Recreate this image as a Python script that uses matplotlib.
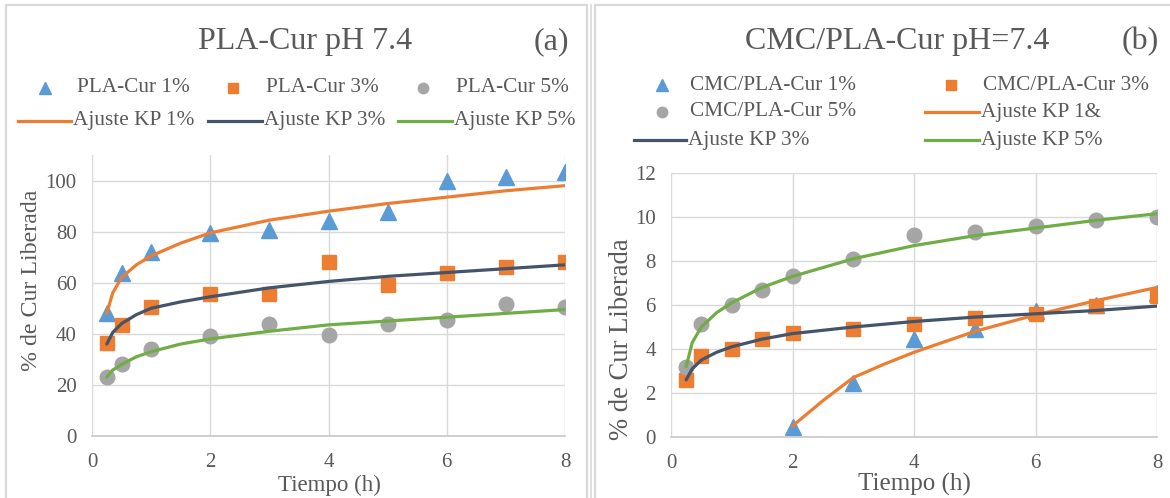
import matplotlib
matplotlib.use("Agg")
import matplotlib.pyplot as plt
from matplotlib.lines import Line2D
from matplotlib.patches import Rectangle

plt.rcParams['font.family'] = ['Liberation Serif', 'DejaVu Serif']

# ---------------- data: panel (a) PLA-Cur ----------------
t_a = [0.25, 0.5, 1, 2, 3, 4, 5, 6, 7, 8]
pla_1 = [48, 64, 72, 79.5, 80.5, 84, 87.5, 100, 101.5, 103.5]
pla_3 = [36.5, 43.5, 50.5, 55.5, 55.5, 68, 59, 64, 66, 68]
pla_5 = [23, 28, 34, 39, 44, 39.5, 44, 45.5, 51.5, 50.5]

t_fit_a = [0.25, 0.35, 0.5, 0.75, 1, 1.5, 2, 3, 4, 5, 6, 7, 8]
fit_a_1 = [48, 56, 62, 67, 70.5, 75.5, 79.5, 84.5, 88, 91, 93.5, 96, 98]
fit_a_3 = [36, 40.5, 44, 47.5, 50, 52.5, 54.5, 58, 60.5, 62.5, 64, 65.5, 67]
fit_a_5 = [23, 25.8, 28, 31, 33, 36, 38, 41, 43.5, 45, 46.5, 48, 49.5]

# ---------------- data: panel (b) CMC/PLA-Cur ----------------
t_b = [0.25, 0.5, 1, 1.5, 2, 3, 4, 5, 6, 7, 8]
cmc_5 = [3.2, 5.15, 6.0, 6.7, 7.3, 8.1, 9.2, 9.3, 9.6, 9.85, 10.0]
cmc_3 = [2.6, 3.7, 4.0, 4.45, 4.75, 4.9, 5.15, 5.4, 5.6, 5.95, 6.4]
t_b1 = [2, 3, 4, 5, 6, 7, 8]
cmc_1 = [0.45, 2.45, 4.45, 4.9, 5.75, 6.0, 6.55]

t_fit_b = [0.25, 0.35, 0.5, 0.75, 1, 1.5, 2, 3, 4, 5, 6, 7, 8]
fit_b_5 = [3.2, 4.3, 5.0, 5.65, 6.1, 6.8, 7.3, 8.1, 8.7, 9.15, 9.5, 9.85, 10.15]
fit_b_3 = [2.6, 3.1, 3.5, 3.85, 4.1, 4.45, 4.7, 5.0, 5.25, 5.45, 5.6, 5.75, 5.95]
t_fit_b1 = [2, 2.5, 3, 3.5, 4, 5, 6, 7, 8]
fit_b_1 = [0.5, 1.65, 2.7, 3.3, 3.85, 4.8, 5.55, 6.2, 6.8]

xticks = [0, 2, 4, 6, 8]
yticks_a = [0, 20, 40, 60, 80, 100]
yticks_b = [0, 2, 4, 6, 8, 10, 12]

# ---------------- styling ----------------
W, H = 1170, 498
BLUE, ORANGE, GRAY = '#5b9bd5', '#ed7d31', '#a5a5a5'
NAVY, GREEN = '#44546a', '#70ad47'
TXT = '#595959'
GRID = '#d9d9d9'

fig = plt.figure(figsize=(W / 100, H / 100), dpi=100)

def fx(x):
    return x / W

def fy(y):
    return 1 - y / H

def make_ax(x0, x1, y0, y1):
    return fig.add_axes([fx(x0), fy(y1), fx(x1) - fx(x0), fy(y0) - fy(y1)])

# panel frames
fig.add_artist(Rectangle((fx(6), fy(520)), fx(587) - fx(6), fy(5) - fy(520),
                         transform=fig.transFigure, fill=False, ec=GRID, lw=1.6))
fig.add_artist(Rectangle((fx(595), fy(520)), fx(1175) - fx(595), fy(5) - fy(520),
                         transform=fig.transFigure, fill=False, ec=GRID, lw=1.6))
fig.add_artist(Line2D([fx(591), fx(591)], [0, fy(5)], transform=fig.transFigure,
                      color=GRID, lw=1.2))

def style_ax(ax, ylim, yticks):
    ax.set_xlim(0, 8)
    ax.set_ylim(*ylim)
    ax.set_xticks(xticks)
    ax.set_yticks(yticks)
    for s in ax.spines.values():
        s.set_visible(False)
    ax.spines['bottom'].set_visible(True)
    ax.spines['bottom'].set_color('#c8c8c8')
    ax.spines['bottom'].set_linewidth(1.2)
    ax.grid(True, color=GRID, lw=1.0)
    ax.set_axisbelow(True)
    ax.tick_params(length=0, labelsize=15, labelcolor=TXT)
    ax.tick_params(axis='x', pad=12)
    ax.tick_params(axis='y', pad=11)

LW = 2.3
# ---------------- panel (a) ----------------
axa = make_ax(92, 565, 155, 436)
style_ax(axa, (0, 110), yticks_a)
axa.plot(t_fit_a, fit_a_1, color=ORANGE, lw=LW, zorder=3, solid_capstyle='round')
axa.plot(t_fit_a, fit_a_3, color=NAVY, lw=LW, zorder=3, solid_capstyle='round')
axa.plot(t_fit_a, fit_a_5, color=GREEN, lw=LW, zorder=3, solid_capstyle='round')
axa.plot(t_a, pla_1, ls='none', marker='^', ms=11.5, color=BLUE, zorder=2)
axa.plot(t_a, pla_3, ls='none', marker='s', ms=9.5, color=ORANGE, zorder=2)
axa.plot(t_a, pla_5, ls='none', marker='o', ms=10.5, color=GRAY, zorder=2)

# ---------------- panel (b) ----------------
axb = make_ax(671, 1157, 173, 437)
style_ax(axb, (0, 12), yticks_b)
axb.plot(t_b1, cmc_1, ls='none', marker='^', ms=11.5, color=BLUE, zorder=2)
axb.plot(t_b, cmc_3, ls='none', marker='s', ms=9.5, color=ORANGE, zorder=2)
axb.plot(t_b, cmc_5, ls='none', marker='o', ms=10.5, color=GRAY, zorder=2)
axb.plot(t_fit_b1, fit_b_1, color=ORANGE, lw=LW, zorder=3, solid_capstyle='round')
axb.plot(t_fit_b, fit_b_3, color=NAVY, lw=LW, zorder=3, solid_capstyle='round')
axb.plot(t_fit_b, fit_b_5, color=GREEN, lw=LW, zorder=3, solid_capstyle='round')

# ---------------- axis titles ----------------
fig.text(fx(329), fy(491), 'Tiempo (h)', fontsize=16.5, color=TXT, ha='center', va='baseline')
fig.text(fx(32), fy(280), '% de Cur Liberada', fontsize=17.2, color=TXT, ha='center',
         va='center', rotation=90)
fig.text(fx(914), fy(491), 'Tiempo (h)', fontsize=18, color=TXT, ha='center', va='baseline')
fig.text(fx(622), fy(339), '% de Cur Liberada', fontsize=19.2, color=TXT, ha='center',
         va='center', rotation=90)

# ---------------- titles ----------------
fig.text(fx(305), fy(42), 'PLA-Cur pH 7.4', fontsize=23, color=TXT, ha='center', va='center')
fig.text(fx(551), fy(42), '(a)', fontsize=23, color=TXT, ha='center', va='center')
fig.text(fx(897), fy(42), 'CMC/PLA-Cur pH=7.4', fontsize=23, color=TXT, ha='center', va='center')
fig.text(fx(1140), fy(42), '(b)', fontsize=23, color=TXT, ha='center', va='center')

# ---------------- legends ----------------
LFS = 15.3

def leg_marker(x, y, marker, color, ms, label, lx):
    fig.add_artist(Line2D([fx(x)], [fy(y)], marker=marker, color=color, ms=ms,
                          ls='none', transform=fig.transFigure))
    fig.text(fx(lx), fy(y), label, fontsize=LFS, color=TXT, ha='left', va='center')

def leg_line(x0, x1, y, color, label, lx):
    fig.add_artist(Line2D([fx(x0), fx(x1)], [fy(y), fy(y)], color=color, lw=LW,
                          transform=fig.transFigure))
    fig.text(fx(lx), fy(y), label, fontsize=LFS, color=TXT, ha='left', va='center')

leg_marker(45, 88, '^', BLUE, 8, 'PLA-Cur 1%', 77)
leg_marker(233, 88, 's', ORANGE, 6.5, 'PLA-Cur 3%', 266)
leg_marker(423, 88, 'o', GRAY, 7.5, 'PLA-Cur 5%', 456)
leg_line(18, 71, 121, ORANGE, 'Ajuste KP 1%', 73)
leg_line(208, 262, 121, NAVY, 'Ajuste KP 3%', 264)
leg_line(398, 452, 121, GREEN, 'Ajuste KP 5%', 454)

leg_marker(662, 85, '^', BLUE, 8, 'CMC/PLA-Cur 1%', 690)
leg_marker(951, 85, 's', ORANGE, 6.5, 'CMC/PLA-Cur 3%', 983)
leg_marker(662, 112, 'o', GRAY, 7.5, 'CMC/PLA-Cur 5%', 690)
leg_line(925, 979, 112, ORANGE, 'Ajuste KP 1&', 981)
leg_line(634, 686, 140, NAVY, 'Ajuste KP 3%', 688)
leg_line(925, 979, 140, GREEN, 'Ajuste KP 5%', 981)

fig.savefig('out.png', dpi=100)
